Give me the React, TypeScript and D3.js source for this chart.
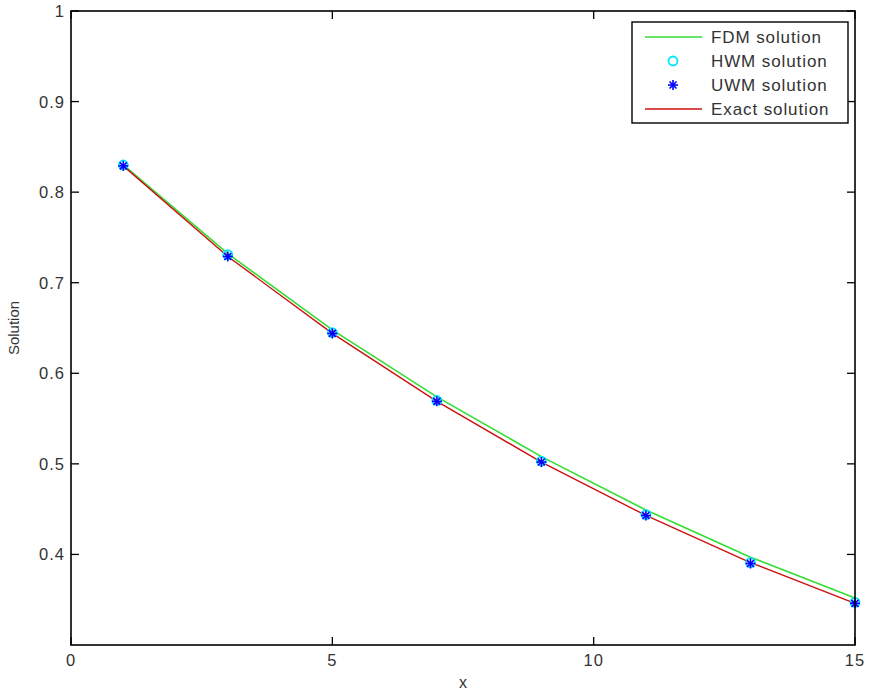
import React from "react";
import * as d3 from "d3";

// values
const xs = [1, 3, 5, 7, 9, 11, 13, 15];
const fdm = [0.83, 0.732, 0.648, 0.574, 0.508, 0.449, 0.397, 0.352];
const hwm = [0.83, 0.731, 0.645, 0.57, 0.503, 0.444, 0.391, 0.347];
const uwm = [0.829, 0.729, 0.644, 0.569, 0.502, 0.443, 0.39, 0.346];
const exact = [0.829, 0.729, 0.644, 0.569, 0.502, 0.443, 0.391, 0.346];
const xTicks = [0, 5, 10, 15];
const yTicks = [0.4, 0.5, 0.6, 0.7, 0.8, 0.9, 1];
const legendItems = ["FDM solution", "HWM solution", "UWM solution", "Exact solution"];

const W = 881;
const H = 695;
const left = 71;
const right = 855;
const top = 11;
const bottom = 645;
const txt = "#333";
const font = "'Liberation Sans', Arial, sans-serif";

const App = () => {
  const x = d3.scaleLinear().domain([0, 15]).range([left, right]);
  const y = d3.scaleLinear().domain([0.3, 1]).range([bottom, top]);
  const line = d3
    .line<number>()
    .x((d, i) => x(xs[i]))
    .y((d) => y(d));

  const star = (cx: number, cy: number, r: number, key: any) => (
    <g key={key} stroke="#0000ff" strokeWidth={1.6}>
      <line x1={cx - r} y1={cy} x2={cx + r} y2={cy} />
      <line x1={cx} y1={cy - r} x2={cx} y2={cy + r} />
      <line x1={cx - r * 0.7} y1={cy - r * 0.7} x2={cx + r * 0.7} y2={cy + r * 0.7} />
      <line x1={cx - r * 0.7} y1={cy + r * 0.7} x2={cx + r * 0.7} y2={cy - r * 0.7} />
    </g>
  );

  const lx = 632;
  const ly = 22;
  const rowY = [37, 61, 85, 109];

  return (
    <svg width={W} height={H} style={{ position: "absolute", left: 0, top: 0, background: "#fff" }} fontFamily={font}>
      <rect x={0} y={0} width={W} height={H} fill="#fff" />
      {/* ticks on four sides */}
      {xTicks.map((t) => (
        <g key={"xt" + t} stroke="#000" strokeWidth={1.3}>
          <line x1={x(t)} y1={bottom} x2={x(t)} y2={bottom - 8} />
          <line x1={x(t)} y1={top} x2={x(t)} y2={top + 8} />
        </g>
      ))}
      {yTicks.map((t) => (
        <g key={"yt" + t} stroke="#000" strokeWidth={1.3}>
          <line x1={left} y1={y(t)} x2={left + 8} y2={y(t)} />
          <line x1={right} y1={y(t)} x2={right - 8} y2={y(t)} />
        </g>
      ))}
      {xTicks.map((t) => (
        <text key={"xl" + t} x={x(t)} y={bottom + 21} textAnchor="middle" fontSize={16.5} fill={txt} letterSpacing={1}>
          {t}
        </text>
      ))}
      {yTicks.map((t) => (
        <text key={"yl" + t} x={left - 6} y={y(t) + 6} textAnchor="end" fontSize={16.5} fill={txt} letterSpacing={1}>
          {t}
        </text>
      ))}
      <text x={x(7.5)} y={688} textAnchor="middle" fontSize={16} fill={txt}>
        x
      </text>
      <text transform={`translate(19,${(top + bottom) / 2}) rotate(-90)`} textAnchor="middle" fontSize={15} fill={txt}>
        Solution
      </text>

      {/* series */}
      <path d={line(fdm) || ""} fill="none" stroke="#33dd33" strokeWidth={1.6} />
      <path d={line(exact) || ""} fill="none" stroke="#cc1111" strokeWidth={1.4} />
      {hwm.map((v, i) => (
        <circle key={"h" + i} cx={x(xs[i])} cy={y(v)} r={4.5} fill="none" stroke="#00e5ff" strokeWidth={1.8} />
      ))}
      {uwm.map((v, i) => star(x(xs[i]), y(v), 5, "u" + i))}

      <rect x={left} y={top} width={right - left} height={bottom - top} fill="none" stroke="#000" strokeWidth={1.6} />

      {/* legend */}
      <rect x={lx} y={ly} width={216} height={101} fill="#fff" stroke="#000" strokeWidth={1.4} />
      <line x1={645} y1={rowY[0]} x2={702} y2={rowY[0]} stroke="#33dd33" strokeWidth={1.6} />
      <circle cx={673} cy={rowY[1]} r={4.5} fill="none" stroke="#00e5ff" strokeWidth={1.8} />
      {star(673, rowY[2], 5, "legstar")}
      <line x1={645} y1={rowY[3]} x2={702} y2={rowY[3]} stroke="#cc1111" strokeWidth={1.4} />
      {legendItems.map((s, i) => (
        <text key={s} x={711} y={rowY[i] + 6} fontSize={17} fill={txt} letterSpacing={0.9}>
          {s}
        </text>
      ))}
    </svg>
  );
};

export default App;
